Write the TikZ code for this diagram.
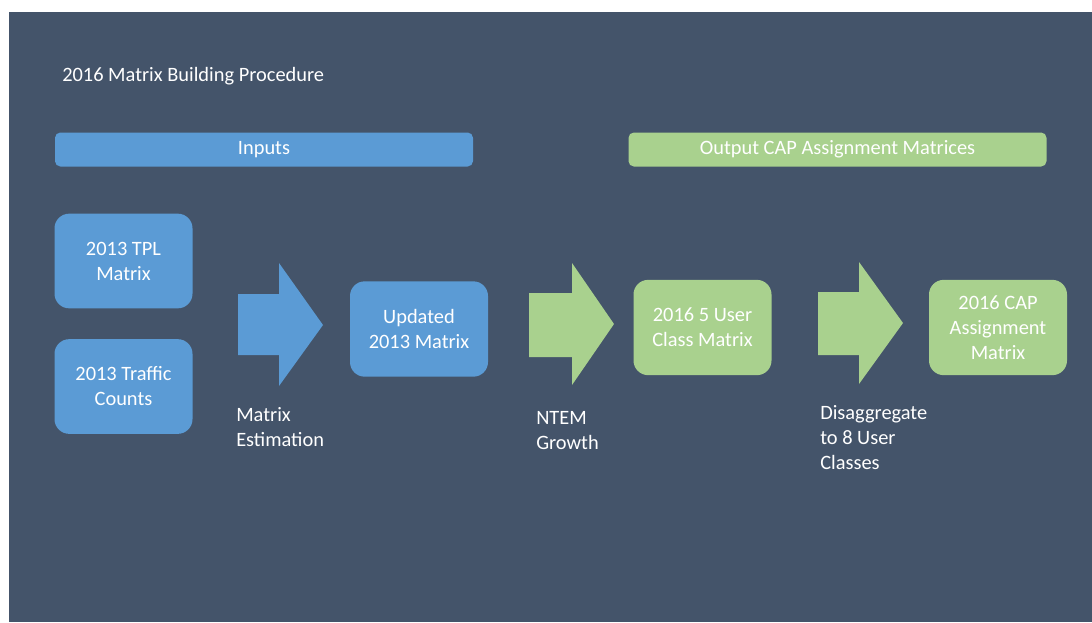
\documentclass[tikz,border=0pt]{standalone}
\usepackage{fontspec}
\setmainfont{Carlito}
\usepackage{xcolor}
\usetikzlibrary{positioning,calc}

\definecolor{slate}{HTML}{44546A}
\definecolor{inblue}{HTML}{5B9BD5}
\definecolor{outgreen}{HTML}{A9D18E}

\begin{document}
\begin{tikzpicture}[
  x=0.75pt, y=-0.75pt,
  txt/.style={font=\fontsize{15.3}{18.75}\selectfont, text=white},
  bar/.style={txt, rounded corners=4pt, minimum width=313.5pt, minimum height=25.5pt, inner sep=0pt},
  mbox/.style={txt, rounded corners=11pt, minimum width=103.5pt, minimum height=71.5pt, inner sep=0pt, align=center},
  flowlabel/.style={txt, anchor=west, align=left, inner sep=0pt}
]
\useasboundingbox (0,0) rectangle (1092,622);
\fill[white] (0,0) rectangle (1092,622);
\fill[slate] (9,12) rectangle (1092,622);

% heading and bars
\node[txt, anchor=west, inner sep=0pt] (title) at (62,76) {2016 Matrix Building Procedure};
\node[bar, fill=inblue] (inputs) at (264,149.5) {Inputs};
\node[bar, fill=outgreen] (outputs) at (837.5,149.5) {Output CAP Assignment Matrices};

% matrix boxes
\node[mbox, fill=inblue, minimum height=71pt] (tpl) at (123.5,261) {2013 TPL\\Matrix};
\node[mbox, fill=inblue, minimum height=71pt] (counts) at (123.5,386.5) {2013 Traffic\\Counts};
\node[mbox, fill=inblue] (updated) at (419,329) {Updated\\2013 Matrix};
\node[mbox, fill=outgreen] (userfive) at (702.5,327.5) {2016 5 User\\Class Matrix};
\node[mbox, fill=outgreen] (capmat) at (998,327.5) {2016 CAP\\Assignment\\Matrix};

% block arrows
\fill[inblue] (238,294) -- (279,294) -- (279,263) -- (323,325) -- (279,386) -- (279,355) -- (238,355) -- cycle;
\fill[outgreen] (529,293) -- (572,293) -- (572,263) -- (614,324) -- (572,385) -- (572,357) -- (529,357) -- cycle;
\fill[outgreen] (818,292) -- (859,292) -- (859,262) -- (903,323) -- (859,384) -- (859,355) -- (818,355) -- cycle;

% step labels
\node[flowlabel] (estim) at (236,427.5) {Matrix\\Estimation};
\node[flowlabel] (ntem) at (536,430.5) {NTEM\\Growth};
\node[flowlabel] (disagg) at (820,437.5) {Disaggregate\\to 8 User\\Classes};
\end{tikzpicture}
\end{document}
